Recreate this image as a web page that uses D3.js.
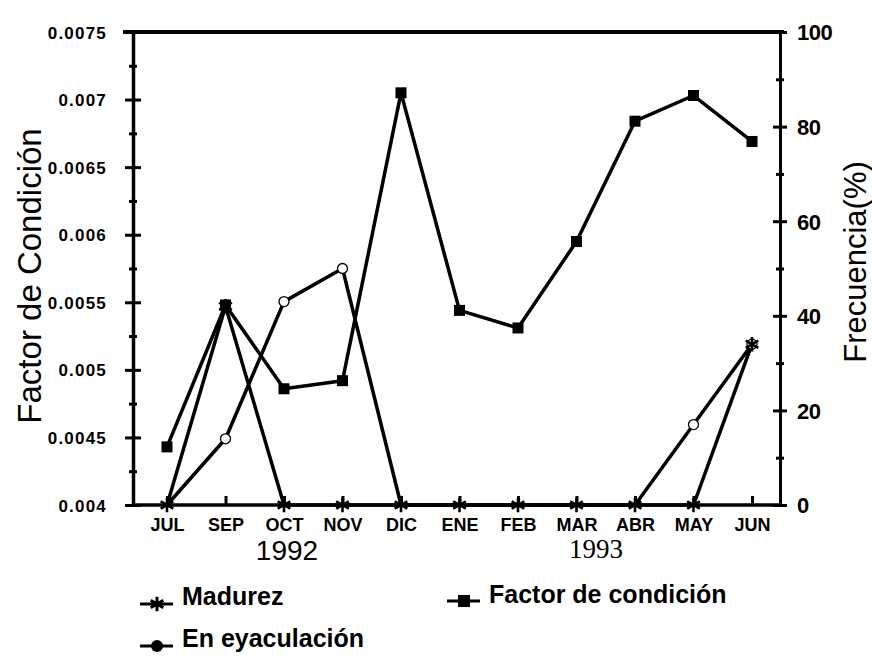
<!DOCTYPE html>
<html>
<head>
<meta charset="utf-8">
<script src="https://cdn.jsdelivr.net/npm/d3@7"></script>
<style>
  body { margin: 0; background: #fff; }
  svg { display: block; font-family: "Liberation Sans", Arial, sans-serif; }
  .line { fill: none; stroke: #000; stroke-width: 3.5; stroke-linejoin: round; }
</style>
</head>
<body>
<div id="chart"></div>
<script>
// months on the x axis (JUL 1992 .. JUN 1993, no AGO)
var months = ['JUL', 'SEP', 'OCT', 'NOV', 'DIC', 'ENE', 'FEB', 'MAR', 'ABR', 'MAY', 'JUN'];
// left axis: factor de condicion
var factorCond = [0.00443, 0.00548, 0.00486, 0.00492, 0.00705, 0.00544, 0.00531, 0.00595, 0.00684, 0.00703, 0.00669];
// right axis: frecuencia (%)
var madurez = [0, 42, 0, 0, 0, 0, 0, 0, 0, 0, 34];
var eyaculacion = [0, 14, 43, 50, 0, 0, 0, 0, 0, 17, 34];
var leftTicks = [0.004, 0.0045, 0.005, 0.0055, 0.006, 0.0065, 0.007, 0.0075];
var rightTicks = [0, 20, 40, 60, 80, 100];

(function () {
    var width = 872, height = 656,
        pL = 133, pR = 780, pT = 32, pB = 505;

    var svg = d3.select('#chart').append('svg')
        .attr('width', width)
        .attr('height', height);

    var x = d3.scaleLinear().domain([0, months.length - 1]).range([167, 752]);
    var yL = d3.scaleLinear().domain([0.004, 0.0075]).range([pB, pT]);
    var yR = d3.scaleLinear().domain([0, 100]).range([pB, pT]);

    // left axis
    var gL = svg.append('g').attr('transform', 'translate(' + pL + ',0)');
    gL.call(d3.axisLeft(yL).tickValues(leftTicks).tickSizeOuter(0).tickPadding(20)
        .tickFormat(function (d) { return String(+d.toFixed(4)); }));
    gL.selectAll('.tick line').attr('x1', -8).attr('x2', 8).attr('stroke-width', 3);
    gL.selectAll('.tick text').attr('font-size', 17).attr('font-weight', 'bold').attr('letter-spacing', 1.2)
        .attr('font-family', '"Liberation Sans", Arial, sans-serif').attr('dy', '0.36em');
    gL.select('.domain').attr('stroke-width', 3.5);
    svg.append('g').attr('transform', 'translate(' + pL + ',0)')
        .call(d3.axisLeft(yL).tickValues(d3.pairs(leftTicks).map(function (p) { return (p[0] + p[1]) / 2; }))
            .tickSize(4).tickFormat(''))
        .call(function (g) { g.select('.domain').remove(); })
        .selectAll('.tick line').attr('x1', -4).attr('x2', 4).attr('stroke-width', 3);

    // right axis
    var gR = svg.append('g').attr('transform', 'translate(' + pR + ',0)');
    gR.call(d3.axisRight(yR).tickValues(rightTicks).tickSizeOuter(0).tickPadding(11));
    gR.selectAll('.tick line').attr('x1', -7).attr('x2', 7).attr('stroke-width', 3);
    gR.selectAll('.tick text').attr('font-size', 22).attr('font-weight', 'bold').attr('letter-spacing', -0.5)
        .attr('font-family', '"Liberation Sans", Arial, sans-serif').attr('dy', '0.36em');
    gR.select('.domain').attr('stroke-width', 3);
    svg.append('g').attr('transform', 'translate(' + pR + ',0)')
        .call(d3.axisRight(yR).tickValues(d3.range(10, 100, 20)).tickFormat(''))
        .call(function (g) { g.select('.domain').remove(); })
        .selectAll('.tick line').attr('x1', -4).attr('x2', 4).attr('stroke-width', 3);

    // top border and bottom axis
    svg.append('line').attr('x1', pL - 10).attr('x2', pR + 4)
        .attr('y1', pT).attr('y2', pT).attr('stroke', '#000').attr('stroke-width', 4);
    var gB = svg.append('g').attr('transform', 'translate(0,' + pB + ')');
    gB.call(d3.axisBottom(x).tickValues(d3.range(months.length)).tickSizeOuter(0).tickPadding(7)
        .tickFormat(function (i) { return months[i]; }));
    gB.select('.domain').attr('d', 'M' + pL + ',0H' + pR).attr('stroke-width', 3.5);
    gB.selectAll('.tick line').attr('y1', 0).attr('y2', -9).attr('stroke-width', 3);
    gB.selectAll('.tick text').attr('font-size', 18).attr('font-weight', 'bold')
        .attr('font-family', '"Liberation Sans", Arial, sans-serif');

    // years
    svg.append('text').attr('x', 287).attr('y', 560).attr('text-anchor', 'middle')
        .attr('font-size', 28).text('1992');
    svg.append('text').attr('x', 596).attr('y', 558).attr('text-anchor', 'middle')
        .attr('font-size', 27).attr('font-family', '"Liberation Serif", "Times New Roman", serif').text('1993');

    // axis titles
    svg.append('text').attr('transform', 'translate(41,276) rotate(-90)')
        .attr('text-anchor', 'middle').attr('font-size', 33).text('Factor de Condición');
    svg.append('text').attr('transform', 'translate(866,262) rotate(-90)')
        .attr('text-anchor', 'middle').attr('font-size', 31).text('Frecuencia(%)');

    // series lines
    var idx = d3.range(months.length);
    function lineFor(vals, y) {
        return d3.line().x(function (i) { return x(i); }).y(function (i) { return y(vals[i]); })(idx);
    }
    svg.append('path').attr('class', 'line').attr('d', lineFor(eyaculacion, yR));
    svg.append('path').attr('class', 'line').attr('d', lineFor(madurez, yR));
    svg.append('path').attr('class', 'line').attr('d', lineFor(factorCond, yL));

    // markers (open circles at zero sit under the asterisks and the axis)
    var star = d3.symbol(d3.symbolAsterisk, 150)();
    svg.append('g').selectAll('circle').data(idx.filter(function (i) { return eyaculacion[i] > 0; })).join('circle')
        .attr('cx', function (i) { return x(i); }).attr('cy', function (i) { return yR(eyaculacion[i]); })
        .attr('r', 5).attr('fill', '#fff').attr('stroke', '#000').attr('stroke-width', 1.3);
    svg.append('g').selectAll('path').data(idx).join('path')
        .attr('transform', function (i) { return 'translate(' + x(i) + ',' + yR(madurez[i]) + ')'; })
        .attr('d', star).attr('fill', 'none').attr('stroke', '#000').attr('stroke-width', 2.6);
    svg.append('g').selectAll('rect').data(idx).join('rect')
        .attr('x', function (i) { return x(i) - 5.5; }).attr('y', function (i) { return yL(factorCond[i]) - 5.5; })
        .attr('width', 11).attr('height', 11).attr('fill', '#000');

    // legend
    var legend = [
        { label: 'Madurez', x: 140, y: 604, sym: 'star' },
        { label: 'Factor de condición', x: 447, y: 601, sym: 'square' },
        { label: 'En eyaculación', x: 140, y: 646, sym: 'circle' }
    ];
    var lg = svg.append('g').selectAll('g').data(legend).join('g')
        .attr('transform', function (d) { return 'translate(' + d.x + ',' + d.y + ')'; });
    lg.append('line').attr('x1', 0).attr('x2', 33).attr('stroke', '#000').attr('stroke-width', 3);
    lg.each(function (d) {
        var g = d3.select(this);
        if (d.sym === 'star') g.append('path').attr('transform', 'translate(17,0)').attr('d', star)
            .attr('fill', 'none').attr('stroke', '#000').attr('stroke-width', 3);
        if (d.sym === 'square') g.append('rect').attr('x', 11).attr('y', -6).attr('width', 12).attr('height', 12);
        if (d.sym === 'circle') g.append('circle').attr('cx', 17).attr('r', 6);
    });
    lg.append('text').attr('x', 42).attr('y', function (d) { return d.sym === 'square' ? 2 : 1; })
        .attr('font-size', 25).attr('font-weight', 'bold').text(function (d) { return d.label; });
})();
</script>
</body>
</html>
